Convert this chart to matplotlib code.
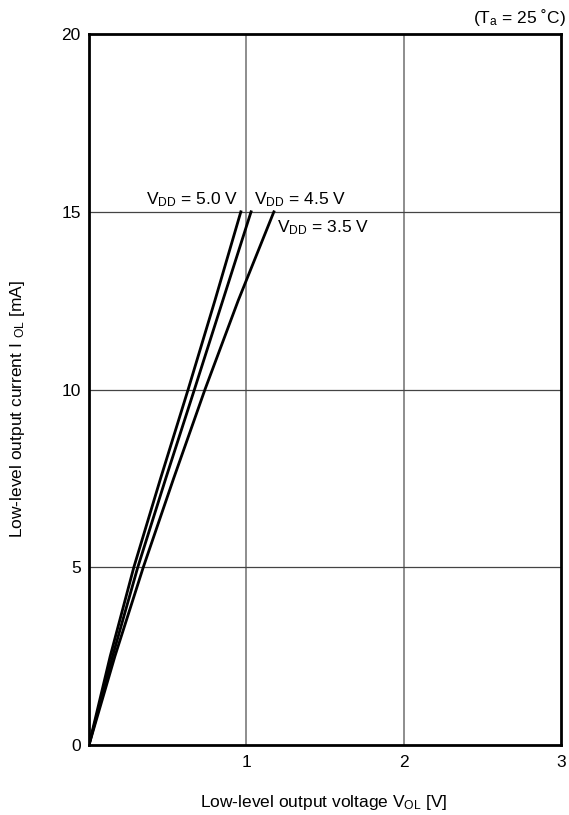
import numpy as np
import matplotlib
matplotlib.use('Agg')
import matplotlib.pyplot as plt

plt.rcParams['font.family'] = ['Liberation Sans', 'DejaVu Sans']
plt.rcParams['mathtext.fontset'] = 'custom'
plt.rcParams['mathtext.rm'] = 'Liberation Sans'
plt.rcParams['mathtext.it'] = 'Liberation Sans'

# --- data (I_OL vs V_OL, Ta = 25 C) ---
iol = [0, 2.5, 5, 7.5, 10, 12.5, 15]                      # mA
vol_50 = [0, 0.135, 0.285, 0.455, 0.63, 0.80, 0.965]      # VDD = 5.0 V
vol_45 = [0, 0.15, 0.31, 0.488, 0.67, 0.85, 1.03]         # VDD = 4.5 V
vol_35 = [0, 0.165, 0.345, 0.538, 0.737, 0.948, 1.175]    # VDD = 3.5 V

x_ticks = [1, 2, 3]
y_ticks = [0, 5, 10, 15, 20]

FS = 12.5

fig = plt.figure(figsize=(5.69, 8.15), dpi=100)
ax = fig.add_axes([0.1564, 0.0859, 0.8296, 0.8723])

for vx in x_ticks[:-1]:
    ax.axvline(vx, color='#7a7a7a', lw=1.2, zorder=1)
for hy in y_ticks[1:-1]:
    ax.axhline(hy, color='#444444', lw=0.9, zorder=1)

for v in (vol_50, vol_45, vol_35):
    ax.plot(v, iol, color='black', lw=2, zorder=3)

ax.set_xlim(0, 3)
ax.set_ylim(0, 20)
ax.set_xticks(x_ticks)
ax.set_yticks(y_ticks)
ax.tick_params(length=0, labelsize=FS)
ax.tick_params(axis='x', pad=7)
ax.tick_params(axis='y', pad=6)
for s in ax.spines.values():
    s.set_linewidth(2)

ax.text(0.362, 15.08, r'V$_{\mathrm{DD}}$ = 5.0 V', fontsize=FS, va='bottom', ha='left')
ax.text(1.048, 15.08, r'V$_{\mathrm{DD}}$ = 4.5 V', fontsize=FS, va='bottom', ha='left')
ax.text(1.194, 14.55, r'V$_{\mathrm{DD}}$ = 3.5 V', fontsize=FS, va='center', ha='left')

# axis titles placed in figure coordinates
fig.text(324 / 569, 1 - 803 / 815, r'Low-level output voltage V$_{\mathrm{OL}}$ [V]',
         fontsize=FS, ha='center', va='center')
fig.text(18 / 569, 1 - 409 / 815, r'Low-level output current I $_{\mathrm{OL}}$ [mA]',
         fontsize=FS, ha='center', va='center', rotation=90)

fig.text(0.995, 0.979, r'(T$_{\mathrm{a}}$ = 25 ˚C)', fontsize=FS, ha='right', va='center')

fig.savefig('out.png', dpi=100)
